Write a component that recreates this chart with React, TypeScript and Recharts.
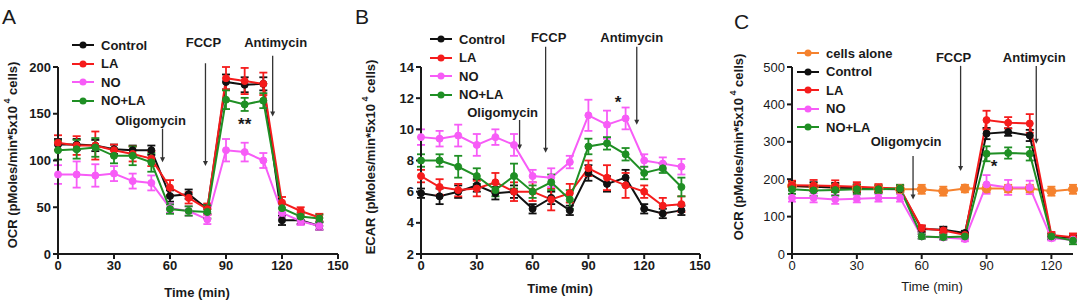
import React from 'react';
import {
  LineChart,
  Line,
  XAxis,
  YAxis,
  ErrorBar,
  Legend,
  ReferenceLine,
  ReferenceDot,
} from 'recharts';

const FONT = '"Liberation Sans", Arial, Helvetica, sans-serif';
const INK = '#1a1a1a';

const BLACK = '#111111';
const RED = '#f51c1c';
const MAGENTA = '#f75cf7';
const GREEN = '#1f8f24';
const ORANGE = '#f5822e';

// sampling times (min)
const timesAB = [0, 10, 20, 30, 40, 50, 60, 70, 80, 90, 100, 110, 120, 130, 140];
const timesC = [0, 10, 20, 30, 40, 50, 60, 70, 80, 90, 100, 110, 120, 130];

// A: OCR (mean, SEM)
const ocrControl = [117, 117, 116, 112, 111, 111, 62, 64, 48, 184, 181, 182, 36, 36, 30];
const ocrControlSem = [6, 6, 6, 5, 5, 5, 6, 5, 5, 8, 8, 7, 5, 4, 4];
const ocrLA = [119, 116, 116, 111, 107, 102, 71, 60, 48, 188, 185, 182, 55, 46, 39];
const ocrLASem = [8, 10, 15, 6, 8, 8, 8, 6, 6, 12, 14, 12, 6, 4, 4];
const ocrNO = [85, 85, 84, 86, 78, 76, 49, 46, 37, 111, 109, 100, 44, 35, 30];
const ocrNOSem = [10, 14, 12, 8, 8, 8, 5, 5, 5, 12, 10, 8, 5, 4, 4];
const ocrNOLA = [111, 112, 114, 105, 105, 98, 48, 46, 45, 165, 160, 164, 49, 40, 38];
const ocrNOLASem = [10, 10, 10, 8, 10, 10, 5, 5, 7, 10, 7, 8, 5, 4, 4];

// B: ECAR (mean, SEM)
const ecarControl = [5.9, 5.7, 6.0, 6.4, 5.9, 6.0, 4.9, 5.6, 4.8, 7.2, 6.5, 6.9, 4.9, 4.6, 4.8];
const ecarControlSem = [0.3, 0.5, 0.4, 0.4, 0.4, 0.4, 0.3, 0.4, 0.3, 0.5, 0.5, 0.5, 0.3, 0.3, 0.3];
const ecarLA = [7.0, 6.3, 6.1, 6.2, 6.6, 6.0, 6.0, 5.5, 5.9, 7.5, 6.9, 6.4, 6.0, 5.1, 5.2];
const ecarLASem = [0.4, 0.5, 0.4, 0.5, 0.6, 0.6, 0.6, 0.7, 0.6, 0.5, 0.8, 0.8, 0.4, 0.5, 0.5];
const ecarNO = [9.5, 9.4, 9.6, 9.0, 9.5, 9.0, 7.0, 6.9, 7.9, 10.9, 10.3, 10.7, 8.0, 7.8, 7.6];
const ecarNOSem = [0.5, 0.5, 0.7, 0.7, 0.5, 0.7, 0.4, 0.6, 0.4, 1.0, 0.9, 0.7, 0.4, 0.4, 0.5];
const ecarNOLA = [8.0, 8.0, 7.6, 7.0, 6.1, 7.0, 6.0, 6.6, 5.5, 8.9, 9.1, 8.4, 7.2, 7.5, 6.3];
const ecarNOLASem = [0.4, 0.4, 0.7, 0.5, 0.4, 0.8, 0.4, 0.5, 0.6, 0.5, 0.4, 0.4, 0.4, 0.3, 0.6];

// C: OCR incl. cells alone (mean, SEM)
const ocr2Cells = [182, 180, 178, 176, 175, 173, 173, 168, 175, 175, 175, 175, 168, 173];
const ocr2CellsSem = [10, 10, 10, 10, 10, 10, 12, 12, 10, 10, 10, 10, 12, 12];
const ocr2Control = [182, 180, 178, 176, 174, 173, 67, 65, 56, 322, 326, 317, 47, 42];
const ocr2ControlSem = [12, 12, 12, 10, 8, 8, 8, 8, 6, 15, 10, 15, 8, 8];
const ocr2LA = [184, 183, 182, 180, 177, 175, 69, 63, 51, 358, 351, 349, 51, 45];
const ocr2LASem = [12, 15, 15, 12, 10, 10, 8, 6, 6, 25, 15, 25, 8, 10];
const ocr2NO = [150, 150, 146, 148, 150, 150, 47, 44, 40, 186, 178, 178, 42, 38];
const ocr2NOSem = [10, 12, 12, 10, 10, 10, 6, 6, 6, 25, 20, 18, 6, 6];
const ocr2NOLA = [173, 170, 171, 173, 173, 175, 47, 45, 47, 268, 270, 268, 47, 36];
const ocr2NOLASem = [12, 15, 15, 12, 10, 10, 6, 6, 6, 20, 15, 18, 6, 10];

type Series = { key: string; name: string; color: string; values: number[]; sem: number[]; r?: number };
type Arrow = { label: string; x: number; top: number; tip: number; dx: number; dy: number };
type Star = { text: string; x: number; y: number };

const seriesA: Series[] = [
  { key: 'ctrl', name: 'Control', color: BLACK, values: ocrControl, sem: ocrControlSem },
  { key: 'la', name: 'LA', color: RED, values: ocrLA, sem: ocrLASem },
  { key: 'no', name: 'NO', color: MAGENTA, values: ocrNO, sem: ocrNOSem },
  { key: 'nola', name: 'NO+LA', color: GREEN, values: ocrNOLA, sem: ocrNOLASem },
];
const seriesB: Series[] = [
  { key: 'ctrl', name: 'Control', color: BLACK, values: ecarControl, sem: ecarControlSem },
  { key: 'la', name: 'LA', color: RED, values: ecarLA, sem: ecarLASem },
  { key: 'no', name: 'NO', color: MAGENTA, values: ecarNO, sem: ecarNOSem },
  { key: 'nola', name: 'NO+LA', color: GREEN, values: ecarNOLA, sem: ecarNOLASem },
];
const seriesC: Series[] = [
  { key: 'cells', name: 'cells alone', color: ORANGE, values: ocr2Cells, sem: ocr2CellsSem, r: 4.5 },
  { key: 'ctrl', name: 'Control', color: BLACK, values: ocr2Control, sem: ocr2ControlSem },
  { key: 'la', name: 'LA', color: RED, values: ocr2LA, sem: ocr2LASem },
  { key: 'no', name: 'NO', color: MAGENTA, values: ocr2NO, sem: ocr2NOSem },
  { key: 'nola', name: 'NO+LA', color: GREEN, values: ocr2NOLA, sem: ocr2NOLASem },
];

// injection arrows: data x, arrow top/tip in data y, label offset in px
const arrowsA: Arrow[] = [
  { label: 'Oligomycin', x: 56, top: 134, tip: 98, dx: -12, dy: -4 },
  { label: 'FCCP', x: 79, top: 204, tip: 94, dx: -2, dy: -16 },
  { label: 'Antimycin', x: 115, top: 212, tip: 147, dx: 3, dy: -9 },
];
const arrowsB: Arrow[] = [
  { label: 'Oligomycin', x: 53, top: 10.6, tip: 8.7, dx: -17, dy: -3 },
  { label: 'FCCP', x: 67, top: 15.3, tip: 8.5, dx: 3, dy: -5 },
  { label: 'Antimycin', x: 116, top: 15.3, tip: 10.3, dx: -5, dy: -5 },
];
const arrowsC: Arrow[] = [
  { label: 'Oligomycin', x: 56, top: 262, tip: 146, dx: -7, dy: -10 },
  { label: 'FCCP', x: 78, top: 503, tip: 222, dx: -7, dy: -4 },
  { label: 'Antimycin', x: 113, top: 503, tip: 295, dx: -2, dy: -4 },
];
const starsA: Star[] = [{ text: '**', x: 100, y: 143 }];
const starsB: Star[] = [{ text: '*', x: 106, y: 12.0 }];
const starsC: Star[] = [{ text: '*', x: 93.5, y: 245 }];

const buildRows = (times: number[], series: Series[]) =>
  times.map((t, i) => {
    const row: Record<string, number> = { t };
    series.forEach((s) => {
      row[s.key] = s.values[i];
      row[`${s.key}Sem`] = s.sem[i];
    });
    return row;
  });

const arrowShape = (a: Arrow, weight: string) => (p: any) => {
  const x1 = Number(p.x1);
  const y1 = Number(p.y1);
  const x2 = Number(p.x2);
  const y2 = Number(p.y2);
  return (
    <g>
      <line x1={x1} y1={y1} x2={x2} y2={y2 - 4} stroke="#333" strokeWidth={1.3} />
      <path d={`M${x2 - 2.5},${y2 - 5} L${x2 + 2.5},${y2 - 5} L${x2},${y2} Z`} fill="#333" />
      <text
        x={x1 + a.dx}
        y={y1 + a.dy}
        textAnchor="middle"
        fontFamily={FONT}
        fontWeight={weight}
        fontSize={13}
        fill={INK}
      >
        {a.label}
      </text>
    </g>
  );
};

// keeps the legend in series order instead of the default alphabetical sort
const legendContent = (series: Series[], weight: string) => (props: any) => {
  const order = series.map((s) => s.name);
  const items = [...(props.payload || [])].sort(
    (a: any, b: any) => order.indexOf(a.value) - order.indexOf(b.value)
  );
  return (
    <div style={{ fontFamily: FONT, fontWeight: weight as any, fontSize: 13, color: INK }}>
      {items.map((e: any) => (
        <div key={e.value} style={{ display: 'flex', alignItems: 'center', height: 18.5 }}>
          <svg width={22} height={10} style={{ marginRight: 7 }}>
            <line x1={0} y1={5} x2={22} y2={5} stroke={e.color} strokeWidth={2} />
            <circle cx={11} cy={5} r={3.5} fill={e.color} />
          </svg>
          <span>{e.value}</span>
        </div>
      ))}
    </div>
  );
};

type PanelProps = {
  letter: string;
  letterPos: [number, number];
  left: number;
  times: number[];
  series: Series[];
  xMax: number;
  xTicks: number[];
  yDomain: [number, number];
  yTicks: number[];
  axisWidth: number;
  right: number;
  yTitle: string;
  yTitlePos: [number, number];
  xTitlePos: [number, number];
  legendPos: [number, number];
  arrows: Arrow[];
  stars: Star[];
  weight: string;
  tickWeight: string;
};

function Panel(p: PanelProps) {
  const rows = buildRows(p.times, p.series);
  const tickStyle = { fontFamily: FONT, fontWeight: p.tickWeight, fontSize: 13, fill: INK };
  return (
    <>
      <div
        style={{
          position: 'absolute',
          left: p.letterPos[0],
          top: p.letterPos[1],
          fontFamily: FONT,
          fontSize: 21,
          color: INK,
          lineHeight: 1,
        }}
      >
        {p.letter}
      </div>
      <div style={{ position: 'absolute', left: p.left, top: 0 }}>
        <LineChart
          width={360}
          height={300}
          data={rows}
          margin={{ top: 67, right: p.right, left: 0, bottom: 0 }}
        >
          <XAxis
            dataKey="t"
            type="number"
            domain={[0, p.xMax]}
            ticks={p.xTicks}
            interval={0}
            height={46}
            tickSize={5}
            tickMargin={2}
            axisLine={{ stroke: INK, strokeWidth: 2 }}
            tickLine={{ stroke: INK, strokeWidth: 2 }}
            tick={tickStyle}
            label={() => (
              <text
                x={p.xTitlePos[0]}
                y={p.xTitlePos[1]}
                textAnchor="middle"
                fontFamily={FONT}
                fontWeight={p.tickWeight}
                fontSize={13}
                fill={INK}
              >
                Time (min)
              </text>
            )}
          />
          <YAxis
            type="number"
            domain={p.yDomain}
            ticks={p.yTicks}
            interval={0}
            width={p.axisWidth}
            tickSize={5}
            tickMargin={2}
            axisLine={{ stroke: INK, strokeWidth: 2 }}
            tickLine={{ stroke: INK, strokeWidth: 2 }}
            tick={tickStyle}
            label={() => {
              const [x, y] = p.yTitlePos;
              return (
                <text
                  x={x}
                  y={y}
                  transform={`rotate(-90, ${x}, ${y})`}
                  textAnchor="middle"
                  dominantBaseline="central"
                  fontFamily={FONT}
                  fontWeight={p.weight}
                  fontSize={13}
                  fill={INK}
                >
                  {p.yTitle} (pMoles/min*5x10
                  <tspan dy={-5} fontSize={9}>
                    {' 4'}
                  </tspan>
                  <tspan dy={5}> cells)</tspan>
                </text>
              );
            }}
          />
          <Legend
            layout="vertical"
            align="center"
            verticalAlign="middle"
            wrapperStyle={{ left: p.legendPos[0], top: p.legendPos[1], width: 'auto', height: 'auto' }}
            content={legendContent(p.series, p.weight)}
          />
          {p.series.map((s) => (
            <Line
              key={s.key}
              dataKey={s.key}
              name={s.name}
              type="linear"
              stroke={s.color}
              strokeWidth={2}
              dot={{ r: s.r ?? 3.5, fill: s.color, stroke: s.color, strokeWidth: 1 }}
              activeDot={false}
              isAnimationActive={false}
            >
              <ErrorBar
                dataKey={`${s.key}Sem`}
                direction="y"
                width={4}
                stroke={s.color}
                strokeWidth={1.8}
                isAnimationActive={false}
              />
            </Line>
          ))}
          {p.arrows.map((a) => (
            <ReferenceLine
              key={a.label}
              segment={[
                { x: a.x, y: a.top },
                { x: a.x, y: a.tip },
              ]}
              ifOverflow="visible"
              shape={arrowShape(a, p.weight)}
            />
          ))}
          {p.stars.map((st) => (
            <ReferenceDot
              key={st.text + st.x}
              x={st.x}
              y={st.y}
              ifOverflow="visible"
              shape={(d: any) => (
                <text
                  x={d.cx}
                  y={Number(d.cy) + 10}
                  textAnchor="middle"
                  fontFamily={FONT}
                  fontWeight="bold"
                  fontSize={17}
                  fill={INK}
                >
                  {st.text}
                </text>
              )}
            />
          ))}
        </LineChart>
      </div>
    </>
  );
}

export default function App() {
  return (
    <div
      style={{
        position: 'absolute',
        left: 0,
        top: 0,
        width: 1080,
        height: 300,
        background: '#fff',
        overflow: 'hidden',
      }}
    >
      <Panel
        letter="A"
        letterPos={[2, 6]}
        left={0}
        times={timesAB}
        series={seriesA}
        xMax={150}
        xTicks={[0, 30, 60, 90, 120, 150]}
        yDomain={[0, 200]}
        yTicks={[0, 50, 100, 150, 200]}
        axisWidth={58}
        right={22}
        yTitle="OCR"
        yTitlePos={[12, 155]}
        xTitlePos={[197, 297]}
        legendPos={[72, 36]}
        arrows={arrowsA}
        stars={starsA}
        weight="bold"
        tickWeight="bold"
      />
      <Panel
        letter="B"
        letterPos={[355, 6]}
        left={360}
        times={timesAB}
        series={seriesB}
        xMax={150}
        xTicks={[0, 30, 60, 90, 120, 150]}
        yDomain={[2, 14]}
        yTicks={[2, 4, 6, 8, 10, 12, 14]}
        axisWidth={61}
        right={20}
        yTitle="ECAR"
        yTitlePos={[10, 157]}
        xTitlePos={[200, 293]}
        legendPos={[70, 30]}
        arrows={arrowsB}
        stars={starsB}
        weight="bold"
        tickWeight="bold"
      />
      <Panel
        letter="C"
        letterPos={[734, 11]}
        left={720}
        times={timesC}
        series={seriesC}
        xMax={130}
        xTicks={[0, 30, 60, 90, 120]}
        yDomain={[0, 500]}
        yTicks={[0, 100, 200, 300, 400, 500]}
        axisWidth={72}
        right={7}
        yTitle="OCR"
        yTitlePos={[18, 147]}
        xTitlePos={[212, 291]}
        legendPos={[77, 44]}
        arrows={arrowsC}
        stars={starsC}
        weight="bold"
        tickWeight="normal"
      />
    </div>
  );
}
